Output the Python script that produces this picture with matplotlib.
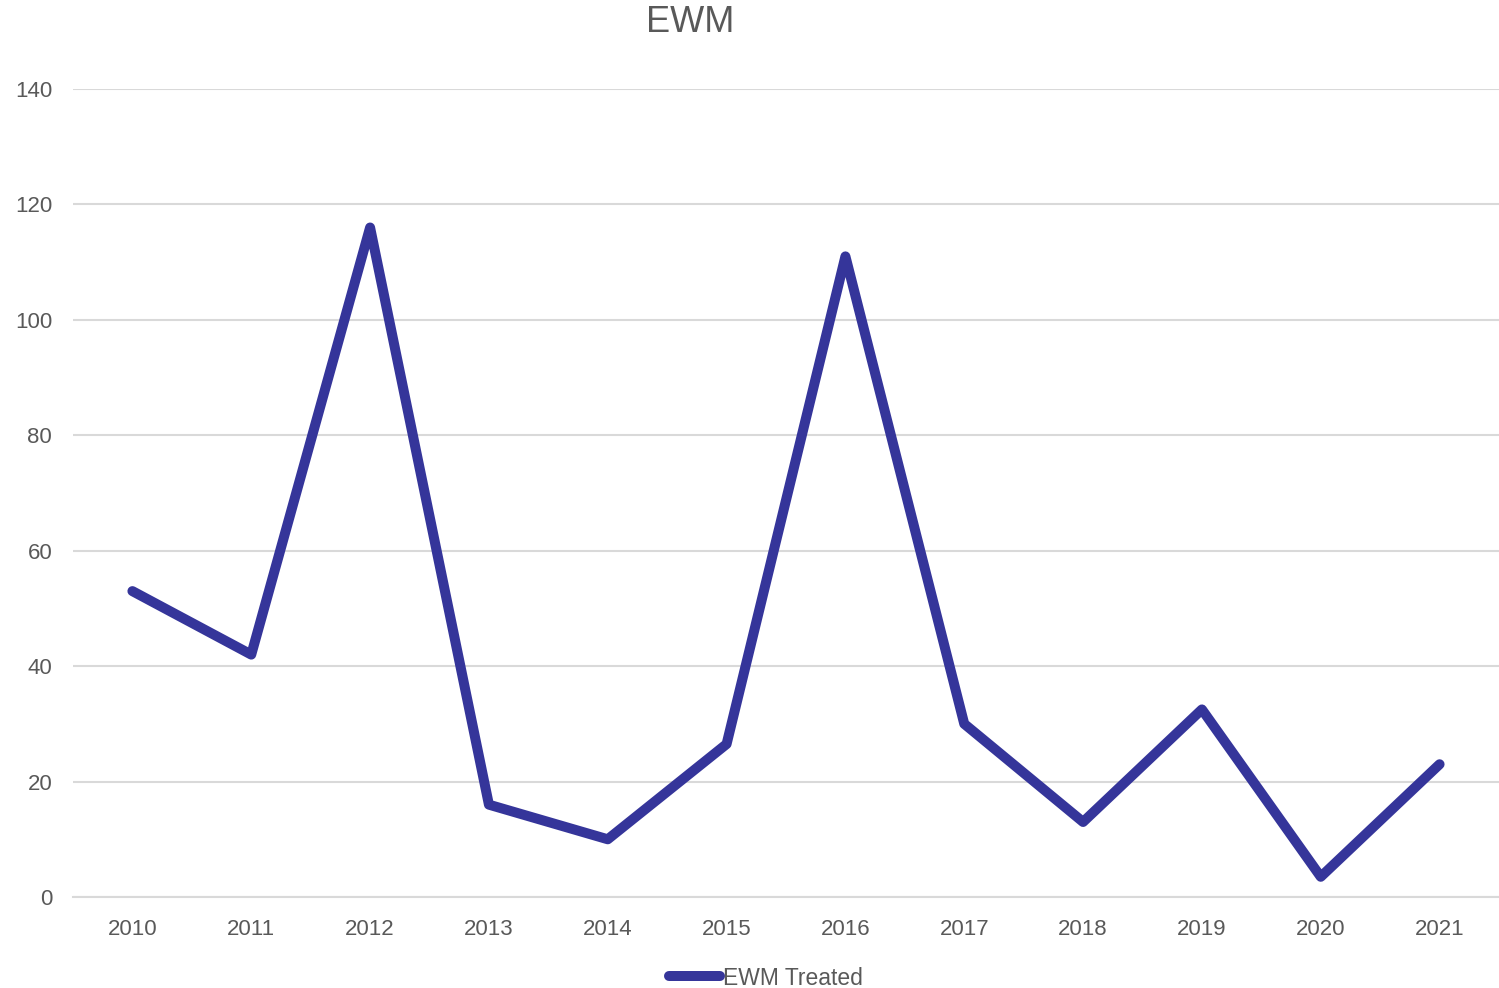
import matplotlib.pyplot as plt
from matplotlib.lines import Line2D

plt.rcParams["font.family"] = ["Liberation Sans", "DejaVu Sans"]

years = ["2010", "2011", "2012", "2013", "2014", "2015",
         "2016", "2017", "2018", "2019", "2020", "2021"]
ewm_treated = [53, 42, 116, 16, 10, 26.5, 111, 30, 13, 32.5, 3.5, 23]
y_ticks = [0, 20, 40, 60, 80, 100, 120, 140]

LINE_COLOR = "#35359A"
TEXT_COLOR = "#595959"
GRID_COLOR = "#D9D9D9"

W, H = 1499, 988
fig = plt.figure(figsize=(W / 100, H / 100), dpi=100)
ax = fig.add_axes([73 / W, (H - 897) / H, (1499 - 73) / W, (897 - 89) / H])

x = list(range(len(years)))
ax.plot(x, ewm_treated, color=LINE_COLOR, linewidth=7.2,
        solid_joinstyle="round", solid_capstyle="round", zorder=3)

ax.set_xlim(-0.5, len(years) - 0.5)
ax.set_ylim(0, 140)
ax.set_xticks(x)
ax.set_xticklabels(years)
ax.set_yticks(y_ticks)
ax.tick_params(axis="both", length=0, labelsize=16, colors=TEXT_COLOR)
ax.tick_params(axis="x", pad=15.5)
ax.tick_params(axis="y", pad=15)
ax.grid(axis="y", color=GRID_COLOR, linewidth=1.5)
ax.set_axisbelow(True)
for side in ["top", "right", "left"]:
    ax.spines[side].set_visible(False)
ax.spines["bottom"].set_color(GRID_COLOR)
ax.spines["bottom"].set_linewidth(1.5)

fig.text(690 / W, 1 - 23 / H, "EWM", ha="center", va="center",
         fontsize=26, color=TEXT_COLOR)

handle = Line2D([0], [0], color=LINE_COLOR, linewidth=7.2, solid_capstyle="round")
fig.legend([handle], ["EWM Treated"], loc="center",
           bbox_to_anchor=(766 / W, 1 - 978 / H), frameon=False,
           fontsize=16.5, labelcolor=TEXT_COLOR, handlelength=2.2,
           handletextpad=0.15)

fig.savefig("out.png", dpi=100)
